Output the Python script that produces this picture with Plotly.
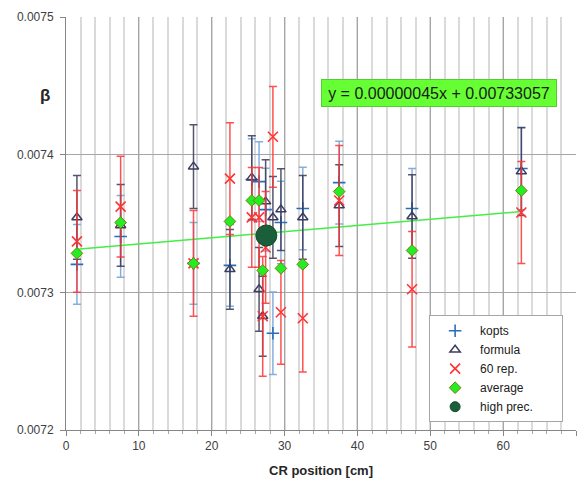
import plotly.graph_objects as go

# ---- data ----
kopts_x = [1.5, 7.5, 17.5, 22.5, 25.5, 26.5, 27.4, 28.4, 29.5, 32.5, 37.5, 47.5, 62.5]
kopts_y = [0.0073203, 0.0073406, 0.0073210, 0.0073196, 0.0073819, 0.0073804, 0.0073601,
           0.0072703, 0.0073507, 0.0073609, 0.0073797, 0.0073609, 0.0073899]
kopts_err = [0.0000290, 0.0000297, 0.0000297, 0.0000297, 0.0000297, 0.0000290, 0.0000300,
             0.0000300, 0.0000300, 0.0000300, 0.0000300, 0.0000290, 0.0000300]

formula_x = [1.5, 7.5, 17.5, 22.5, 25.5, 26.5, 27.0, 27.4, 28.4, 29.5, 32.5, 37.5, 47.5, 62.5]
formula_y = [0.0073544, 0.0073486, 0.0073913, 0.0073167, 0.0073833, 0.0073022, 0.0072826,
             0.0073659, 0.0073544, 0.0073601, 0.0073544, 0.0073630, 0.0073551, 0.0073877]
formula_err = [0.0000304, 0.0000297, 0.0000304, 0.0000290, 0.0000304, 0.0000304, 0.0000290,
               0.0000304, 0.0000297, 0.0000297, 0.0000304, 0.0000297, 0.0000304, 0.0000319]

rep_x = [1.5, 7.5, 17.5, 22.5, 25.5, 26.5, 27.0, 27.4, 28.4, 29.5, 32.5, 37.5, 47.5, 62.5]
rep_y = [0.0073370, 0.0073623, 0.0073210, 0.0073826, 0.0073544, 0.0073544, 0.0072826,
         0.0073326, 0.0074130, 0.0072855, 0.0072812, 0.0073667, 0.0073022, 0.0073580]
rep_err = [0.0000370, 0.0000366, 0.0000384, 0.0000406, 0.0000362, 0.0000362, 0.0000435,
           0.0000406, 0.0000366, 0.0000377, 0.0000391, 0.0000399, 0.0000420, 0.0000370]

avg_x = [1.5, 7.5, 17.5, 22.5, 25.5, 26.5, 27.0, 29.5, 32.5, 37.5, 47.5, 62.5]
avg_y = [0.0073283, 0.0073507, 0.0073210, 0.0073515, 0.0073667, 0.0073667, 0.0073159,
         0.0073174, 0.0073203, 0.0073732, 0.0073304, 0.0073739]

hp_x = [27.5]
hp_y = [0.0073413]

trend_slope = 0.00000045
trend_intercept = 0.00733057
trend_x = [min(avg_x), max(avg_x)]
trend_y = [trend_slope * v + trend_intercept for v in trend_x]

x_ticks = [0, 10, 20, 30, 40, 50, 60, 70]
y_ticks = [0.0072, 0.0073, 0.0074, 0.0075]

FONT = "Liberation Sans"
PAD = "&nbsp;" * 7  # widens the legend box like the reference

fig = go.Figure()

fig.add_trace(go.Scatter(
    x=trend_x, y=trend_y, mode="lines", showlegend=False, hoverinfo="skip",
    line=dict(color="#44EE44", width=1.5)))

fig.add_trace(go.Scatter(
    x=kopts_x, y=kopts_y, mode="markers", name="kopts",
    marker=dict(symbol="cross-thin", size=9, color="#2A6EBB",
                line=dict(color="#2A6EBB", width=1.6)),
    error_y=dict(type="data", array=kopts_err, visible=True, color="rgba(120,165,220,0.9)",
                 thickness=1.5, width=4)))

fig.add_trace(go.Scatter(
    x=formula_x, y=formula_y, mode="markers", name="formula",
    marker=dict(symbol="triangle-up-open", size=9, color="#3C3C5E",
                line=dict(color="#3C3C5E", width=1.5)),
    error_y=dict(type="data", array=formula_err, visible=True, color="rgba(55,55,85,0.85)",
                 thickness=1.5, width=4)))

fig.add_trace(go.Scatter(
    x=rep_x, y=rep_y, mode="markers", name="60 rep.",
    marker=dict(symbol="x-thin", size=10, color="#FF3333",
                line=dict(color="#FF3333", width=1.6)),
    error_y=dict(type="data", array=rep_err, visible=True, color="rgba(255,50,50,0.85)",
                 thickness=1.5, width=4)))

fig.add_trace(go.Scatter(
    x=avg_x, y=avg_y, mode="markers", name="average",
    marker=dict(symbol="diamond", size=9, color="#22EE22",
                line=dict(color="#7A7A10", width=1))))

fig.add_trace(go.Scatter(
    x=hp_x, y=hp_y, mode="markers", name="high prec.", showlegend=False,
    marker=dict(symbol="circle", size=21, color="#1B5E3A",
                line=dict(color="#144A2C", width=1))))

# legend-only entry (smaller symbol, as in the reference legend)
fig.add_trace(go.Scatter(
    x=[None], y=[None], mode="markers", name="high prec." + PAD,
    marker=dict(symbol="circle", size=10, color="#1B5E3A",
                line=dict(color="#144A2C", width=1))))

fig.update_layout(
    width=582, height=485,
    margin=dict(l=66, r=6, t=17, b=55),
    paper_bgcolor="white", plot_bgcolor="white",
    font=dict(family=FONT, size=12, color="#404040"),
    showlegend=True,
    legend=dict(x=0.712, y=0.278, xanchor="left", yanchor="top",
                bgcolor="white", bordercolor="#A6A6A6", borderwidth=1,
                font=dict(family=FONT, size=12, color="#202020"),
                itemsizing="trace", itemwidth=40, tracegroupgap=0),
    xaxis=dict(range=[0, 70], tickvals=x_ticks, showgrid=True, gridcolor="#A6A6A6",
               gridwidth=1, showline=True, linecolor="#868686", linewidth=1,
               ticks="outside", ticklen=5, tickcolor="#868686", zeroline=False,
               tickfont=dict(family=FONT, size=12, color="#404040"),
               minor=dict(dtick=2, tick0=0, showgrid=True, gridcolor="#DADADA", gridwidth=2,
                          ticks="outside", ticklen=3, tickcolor="#A6A6A6")),
    yaxis=dict(range=[0.0072, 0.0075], tickvals=y_ticks, tickformat=".4f",
               showgrid=True, gridcolor="#A6A6A6", gridwidth=1.2,
               showline=True, linecolor="#868686", linewidth=1,
               ticks="outside", ticklen=5, tickcolor="#868686", zeroline=False,
               tickfont=dict(family=FONT, size=12, color="#404040"),
               ticklabelstandoff=4),
)

fig.add_annotation(
    text="y = 0.00000045x + 0.00733057", xref="paper", yref="paper",
    x=0.731, y=0.815, xanchor="center", yanchor="middle", showarrow=False,
    align="center",
    bgcolor="#66FF33", bordercolor="#55CC33", borderwidth=1, borderpad=2,
    width=230, height=22,
    font=dict(family=FONT, size=16, color="#1A1A1A"))

fig.add_annotation(
    text="<b>β</b>", xref="paper", yref="paper", x=-0.041, y=0.811,
    xanchor="center", yanchor="middle", showarrow=False,
    font=dict(family=FONT, size=17, color="#262626"))

fig.add_annotation(
    text="<b>CR position [cm]</b>", xref="paper", yref="paper", x=0.5, y=-0.097,
    xanchor="center", yanchor="middle", showarrow=False,
    font=dict(family=FONT, size=13, color="#262626"))

fig.write_html("out.html")
